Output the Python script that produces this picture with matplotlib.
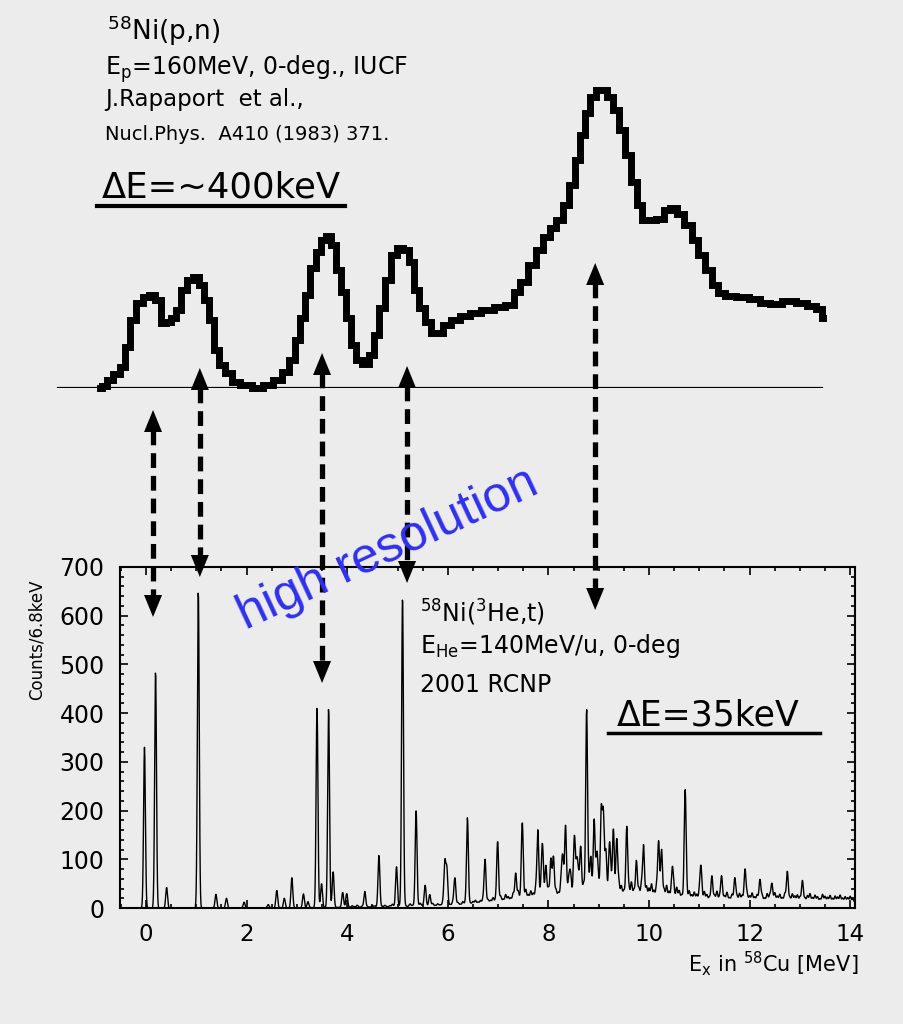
import numpy as np
import matplotlib
matplotlib.use('Agg')
import matplotlib.pyplot as plt
from matplotlib.lines import Line2D
from matplotlib.ticker import MultipleLocator

plt.rcParams['font.family'] = ['DejaVu Sans']
plt.rcParams['mathtext.default'] = 'regular'

# 58Ni(p,n) spectrum, IUCF (arbitrary yield units)
pn_ex = [-0.91, -0.82, -0.72, -0.58, -0.46, -0.38, -0.26, -0.12, 0.00, 0.12,
         0.24, 0.34, 0.44, 0.54, 0.64, 0.76, 0.87, 0.99, 1.11, 1.21,
         1.31, 1.41, 1.51, 1.63, 1.77, 1.97, 2.23, 2.43, 2.62, 2.78,
         2.92, 3.02, 3.12, 3.22, 3.32, 3.42, 3.52, 3.62, 3.72, 3.82,
         3.92, 4.02, 4.12, 4.23, 4.37, 4.49, 4.59, 4.69, 4.81, 4.93,
         5.05, 5.17, 5.27, 5.37, 5.49, 5.61, 5.73, 5.84, 5.98, 6.14,
         6.34, 6.54, 6.78, 7.04, 7.24, 7.38, 7.51, 7.67, 7.83, 7.97,
         8.09, 8.23, 8.35, 8.47, 8.57, 8.67, 8.77, 8.89, 8.99, 9.11,
         9.23, 9.34, 9.46, 9.58, 9.70, 9.82, 9.92, 10.06, 10.22, 10.36,
         10.48, 10.62, 10.78, 10.91, 11.05, 11.19, 11.31, 11.43, 11.61, 11.85,
         12.11, 12.31, 12.50, 12.80, 13.06, 13.24, 13.40, 13.46]
pn_yield = [0, 2, 8, 14, 21, 41, 68, 85, 91, 93,
            88, 65, 66, 70, 78, 98, 108, 111, 103, 88,
            68, 38, 23, 15, 6, 3, 0, 3, 8, 16,
            28, 48, 70, 93, 120, 136, 148, 152, 143, 118,
            96, 70, 43, 28, 24, 33, 53, 80, 108, 133,
            140, 138, 126, 98, 80, 66, 55, 55, 63, 68,
            72, 75, 78, 81, 83, 96, 106, 123, 138, 151,
            160, 168, 183, 203, 228, 253, 275, 291, 298, 298,
            291, 278, 258, 233, 206, 183, 168, 168, 169, 178,
            180, 174, 163, 148, 133, 118, 103, 95, 92, 91,
            89, 85, 84, 87, 85, 82, 79, 70]
pn_base_ex = [-1.75, 13.44]

# 58Ni(3He,t) spectrum, RCNP: resolved levels (Ex, counts at top)
peak_ex = [-0.03, 0.19, 0.41, 1.04, 1.39, 1.60, 1.95, 2.43, 2.60, 2.75,
           2.90, 3.13, 3.22, 3.40, 3.49, 3.63, 3.72, 3.91, 3.99, 4.35,
           4.63, 4.98, 5.10, 5.37, 5.55, 5.64, 5.94, 5.98, 6.14, 6.39,
           6.74, 6.99, 7.35, 7.48, 7.79, 7.88, 7.95, 8.05, 8.10, 8.28,
           8.34, 8.43, 8.52, 8.57, 8.64, 8.76, 8.84, 8.91, 8.97, 9.05,
           9.09, 9.14, 9.22, 9.29, 9.36, 9.56, 9.75, 9.89, 10.19, 10.25,
           10.47, 10.72, 11.03, 11.25, 11.44, 11.71, 11.91, 12.21, 12.44, 12.75,
           13.05]
peak_counts = [330, 488, 42, 654, 28, 20, 12, 7, 36, 20,
               62, 29, 13, 416, 50, 410, 75, 32, 28, 29,
               107, 83, 638, 198, 43, 25, 91, 78, 60, 179,
               97, 131, 62, 169, 153, 124, 78, 90, 82, 98,
               158, 68, 136, 93, 110, 397, 88, 172, 98, 172,
               176, 108, 118, 141, 129, 146, 76, 119, 126, 98,
               74, 231, 82, 50, 54, 46, 74, 43, 43, 64,
               43]
# continuum under the levels
cont_ex = [-0.52, 2.5, 4.5, 6.0, 7.0, 7.5, 8.0, 8.5, 9.0, 9.5, 10.0, 10.5, 11.0, 12.0, 13.0, 14.1]
cont_lv = [0, 0, 2, 5, 12, 18, 22, 26, 28, 26, 22, 20, 16, 15, 14, 12]
# unresolved fine structure on top of the continuum, every 50 keV from 4 MeV
ripple_start, ripple_step = 4.0, 0.05
ripple = [2, 0, 3, 1, 4, 0, 2, 5, 1, 0, 3, 2, 0, 4, 1, 3, 0, 2, 5, 1,
          3, 1, 4, 2, 0, 5, 2, 3, 1, 6, 2, 4, 0, 3, 5, 1, 4, 2, 6, 3,
          4, 2, 7, 3, 5, 1, 6, 4, 8, 2, 5, 7, 3, 6, 9, 4, 7, 5, 10, 6,
          8, 12, 5, 14, 9, 6, 15, 10, 18, 7, 13, 20, 9, 16, 11, 22, 8, 17, 14, 10,
          19, 12, 24, 15, 9, 26, 18, 13, 28, 16, 22, 11, 30, 19, 25, 14, 27, 20, 12, 29,
          17, 26, 21, 13, 30, 18, 24, 15, 27, 20, 11, 25, 16, 29, 14, 22, 18, 26, 12, 23,
          19, 28, 15, 24, 13, 22, 18, 26, 14, 20, 11, 23, 17, 9, 21, 14, 18, 10, 16, 12,
          15, 9, 18, 12, 7, 16, 11, 19, 8, 14, 10, 17, 6, 13, 18, 9, 15, 11, 7, 14,
          10, 16, 8, 13, 18, 11, 6, 15, 12, 9, 17, 10, 14, 7, 16, 12, 8, 15, 11, 13,
          9, 14, 7, 12, 16, 8, 13, 10, 6, 15, 11, 9, 13, 7, 12, 10, 14, 8, 11, 9, 12, 7]

# corresponding states in the two spectra
arrow_ex = [0.14, 1.07, 3.50, 5.19, 8.93]
arrow_top = [410, 368, 353, 366, 263]   # pixel rows of the arrow tips
arrow_bot = [617, 577, 683, 583, 610]

xticks = [0, 2, 4, 6, 8, 10, 12, 14]
yticks = [0, 100, 200, 300, 400, 500, 600, 700]

W, H = 904, 1024
X0, SCALE = 146, 50.3          # pixel column of Ex=0, pixels per MeV
ex_lim = (-0.52, 14.1)


def fx(px):
    return px / W


def fy(py):
    return 1 - py / H


fig = plt.figure(figsize=(W / 100, H / 100), dpi=100, facecolor='#ececec')
full_xlim = (-X0 / SCALE, (W - X0) / SCALE)

# --- (3He,t) spectrum ---
ax = fig.add_axes([fx(X0 + ex_lim[0] * SCALE), fy(908),
                   (ex_lim[1] - ex_lim[0]) * SCALE / W, (908 - 567) / H])
ax.set_facecolor('none')
grid = np.arange(ex_lim[0], ex_lim[1], 0.0068)
cont = np.interp(grid, cont_ex, cont_lv)
spec = cont.copy()
amp = np.array(peak_counts) - np.interp(peak_ex, cont_ex, cont_lv)
for e0, a in zip(peak_ex, amp):
    spec += a * np.exp(-0.5 * ((grid - e0) / 0.018) ** 2)
rip_ex = ripple_start + ripple_step * np.arange(len(ripple))
for e0, a in zip(rip_ex, ripple):
    spec += a * np.exp(-0.5 * ((grid - e0) / 0.016) ** 2)
ax.plot(grid, spec, color='black', lw=1.0)
ax.set_xlim(ex_lim)
ax.set_ylim(0, 700)
ax.set_xticks(xticks)
ax.set_yticks(yticks)
ax.xaxis.set_minor_locator(MultipleLocator(0.5))
ax.yaxis.set_minor_locator(MultipleLocator(20))
ax.tick_params(which='both', direction='in', top=True, right=True, width=1.2)
ax.tick_params(which='major', length=6)
ax.tick_params(which='minor', length=3)
ax.tick_params(axis='y', labelsize=17, pad=11)
ax.tick_params(axis='x', labelsize=16.5, pad=11)
for sp in ax.spines.values():
    sp.set_linewidth(1.5)

# --- (p,n) spectrum ---
ax_top = fig.add_axes([0, fy(388), 1, 328 / H])
ax_top.set_xlim(full_xlim)
ax_top.set_ylim(0, 328)
ax_top.axis('off')
ax_top.plot(pn_base_ex, [0, 0], color='black', lw=1.6)
ax_top.plot(pn_ex, pn_yield, color='black', lw=5, drawstyle='steps-mid',
            solid_joinstyle='miter', clip_on=False)

# --- connecting arrows ---
ax_ov = fig.add_axes([0, 0, 1, 1], zorder=5)
ax_ov.set_xlim(full_xlim)
ax_ov.set_ylim(H, 0)
ax_ov.axis('off')
hw, hl = 9 / SCALE, 22
for e, top, bot in zip(arrow_ex, arrow_top, arrow_bot):
    ax_ov.plot([e, e], [top + hl - 2, bot - hl + 2], color='black', lw=3.8,
               linestyle=(0, (2.8, 1.5)), dash_capstyle='butt')
    ax_ov.fill([e - hw, e + hw, e], [top + hl, top + hl, top], color='black', lw=0)
    ax_ov.fill([e - hw, e + hw, e], [bot - hl, bot - hl, bot], color='black', lw=0)

# --- labels ---
fig.text(fx(107), fy(40), r'$^{58}$Ni(p,n)', fontsize=19, va='baseline')
fig.text(fx(105), fy(75), r'E$_p$=160MeV, 0-deg., IUCF', fontsize=17, va='baseline')
fig.text(fx(105), fy(106), 'J.Rapaport  et al.,', fontsize=16.5, va='baseline')
fig.text(fx(105), fy(140), 'Nucl.Phys.  A410 (1983) 371.', fontsize=14, va='baseline')
fig.text(fx(102), fy(198), r'ΔE=~400keV', fontsize=25.5, va='baseline')
fig.add_artist(Line2D([fx(97), fx(345)], [fy(206), fy(206)],
                      transform=fig.transFigure, color='black', lw=3))

fig.text(fx(420), fy(622), r'$^{58}$Ni($^3$He,t)', fontsize=17, va='baseline')
fig.text(fx(420), fy(653), r'E$_{He}$=140MeV/u, 0-deg', fontsize=17, va='baseline')
fig.text(fx(420), fy(692), '2001 RCNP', fontsize=17, va='baseline')
fig.text(fx(617), fy(725), 'ΔE=35keV', fontsize=25, va='baseline')
fig.add_artist(Line2D([fx(608), fx(820)], [fy(733), fy(733)],
                      transform=fig.transFigure, color='black', lw=2.5))

fig.text(fx(37), fy(640), 'Counts/6.8keV', fontsize=12, rotation=90,
         ha='center', va='center')
fig.text(fx(688), fy(972), r'E$_x$ in $^{58}$Cu [MeV]', fontsize=15, va='baseline')

fig.text(fx(388), fy(549), 'high resolution', rotation=25, rotation_mode='anchor',
         ha='center', va='center', fontsize=36, family='Liberation Sans',
         color='#2f2ff0', zorder=6)

fig.savefig('out.png', dpi=100, facecolor=fig.get_facecolor())
